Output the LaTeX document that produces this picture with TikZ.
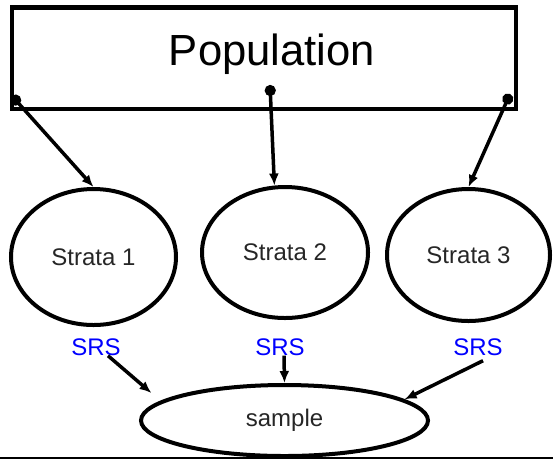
\documentclass[tikz,border=0pt]{standalone}
\usepackage{fontspec}
\setmainfont{Liberation Sans}
\usetikzlibrary{arrows.meta}
\usetikzlibrary{shapes.geometric}

\begin{document}
\begin{tikzpicture}[x=1pt,y=-1pt,
    stratum/.style={ellipse,draw,line width=4pt,inner sep=0pt,
        font=\fontsize{24}{28}\selectfont,text=black!85},
    srslabel/.style={inner sep=0pt,text=blue,font=\fontsize{24}{28}\selectfont},
    pick/.style={line width=3.5pt,{Circle[length=11pt]}-{Latex[length=12pt,width=10pt]}},
    draw srs/.style={line width=3.5pt,-{Latex[length=12pt,width=10pt]}}]

    % page size
    \useasboundingbox (0,0) rectangle (553,459);

    % population box
    \node[draw,line width=4.5pt,minimum width=504pt,minimum height=101.5pt] (pop) at (264,58.25) {};
    \node[anchor=base,font=\fontsize{43.6}{48}\selectfont] (popname) at (272,65) {Population};

    % where the draws start
    \coordinate (p1) at (12,96);
    \coordinate (p2) at (270,85);
    \coordinate (p3) at (510,94);

    % strata
    \node[stratum,minimum width=165pt,minimum height=136pt] (s1) at (93.5,257) {Strata 1};
    \node[stratum,minimum width=166pt,minimum height=131pt] (s2) at (285,252.5) {Strata 2};
    \node[stratum,minimum width=163pt,minimum height=132pt] (s3) at (468.5,255) {Strata 3};

    % sample
    \node[stratum,minimum width=287pt,minimum height=71pt] (smp) at (284.5,420.5) {sample};

    % SRS labels
    \node[srslabel] (r1) at (96,347) {SRS};
    \node[srslabel] (r2) at (280,347) {SRS};
    \node[srslabel] (r3) at (478,347) {SRS};

    % population -> strata
    \draw[pick] (p1) -- (s1.north);
    \draw[pick] (p2) -- (s2.99);
    \draw[pick] (p3) -- (s3.north);

    % strata -> sample
    \draw[draw srs,shorten >=12pt] ([xshift=12pt]r1.south) -- (smp.171);
    \draw[draw srs] ([xshift=4pt]r2.south) -- (smp.north);
    \draw[draw srs] ([xshift=5pt,yshift=-5pt]r3.south) -- (smp.10);

    % bottom rule
    \draw[line width=2.5pt] (0,458) -- (553,458);

\end{tikzpicture}
\end{document}
